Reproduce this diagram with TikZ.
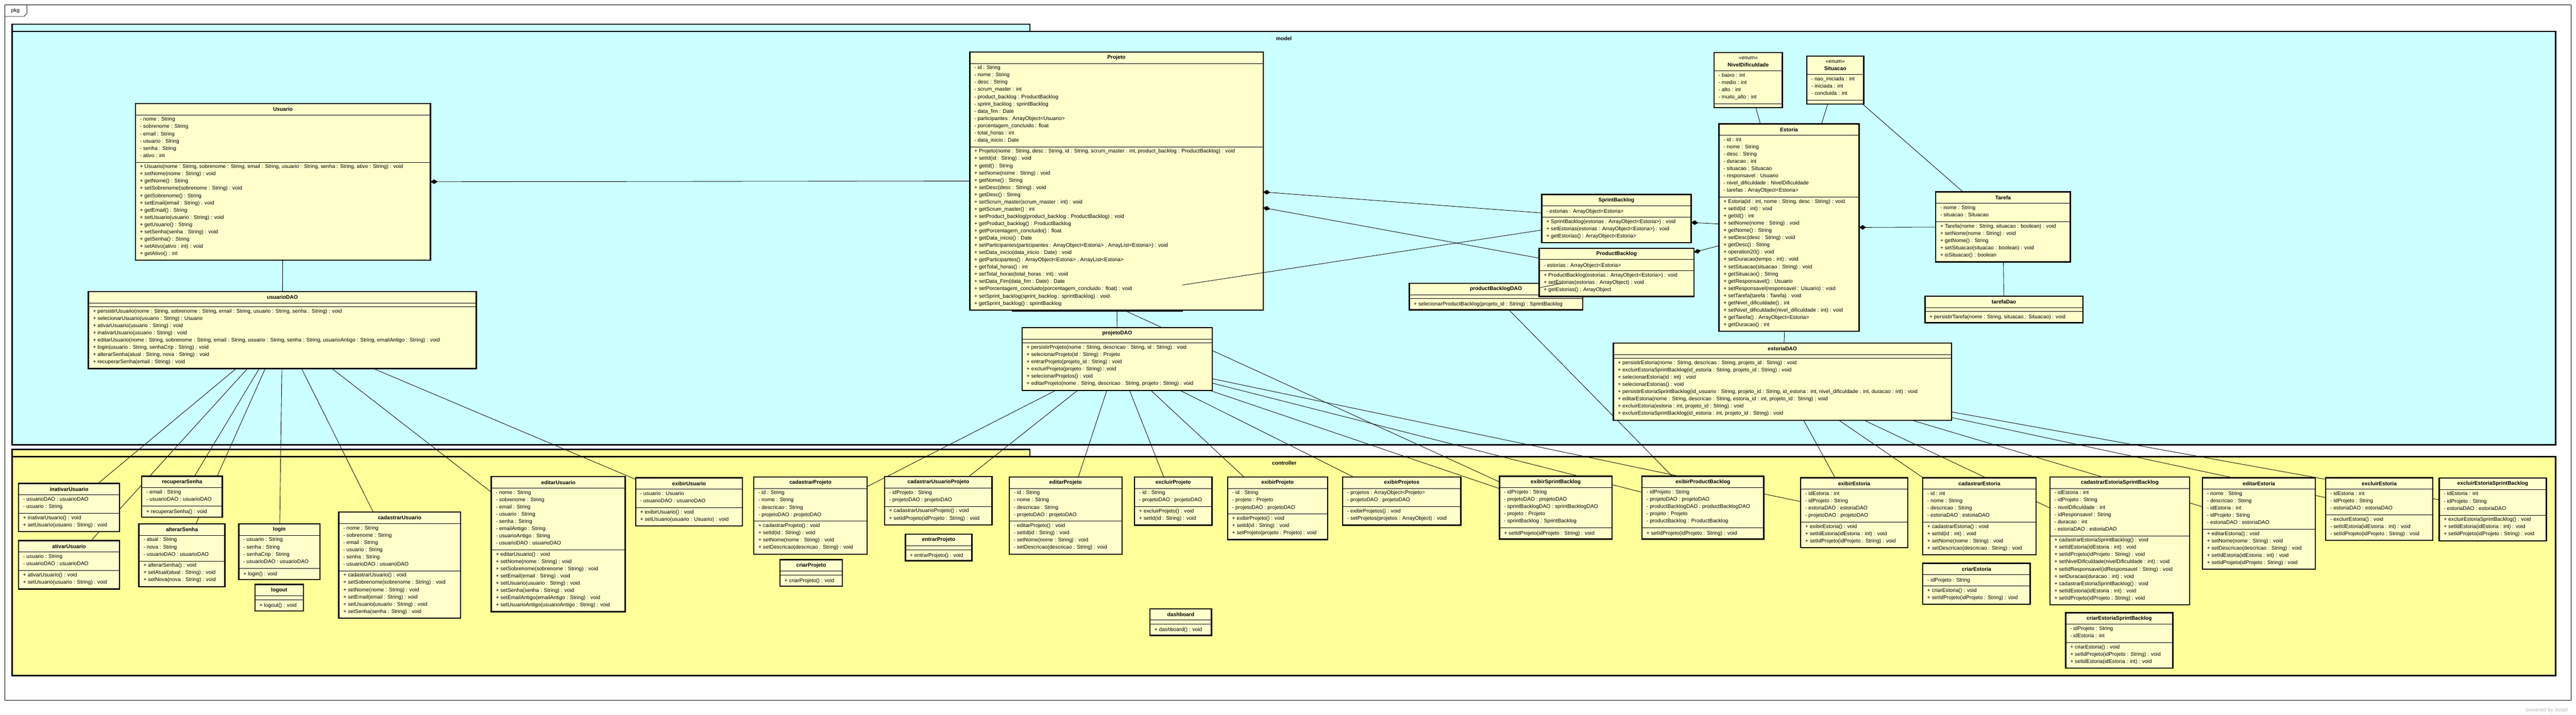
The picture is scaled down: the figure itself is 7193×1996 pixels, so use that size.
\documentclass[tikz,border=0pt]{standalone}
\usepackage{fontspec}
\setmainfont{Liberation Sans}
\usetikzlibrary{arrows.meta}
\definecolor{modelbg}{RGB}{204,255,255}
\definecolor{ctrlbg}{RGB}{255,255,153}
\definecolor{classbg}{RGB}{255,255,204}
\pgfdeclarelayer{pkg}
\pgfdeclarelayer{lines}
\pgfsetlayers{pkg,lines,main}
\newcommand{\umlfont}{\fontsize{4.2}{5.75}\selectfont}
\def\titleh{32}
% #1 name, #2 x, #3 y, #4 width, #5 attributes, #6 operations, #7 title, #8 attribute lines, #9 operation lines
\newcommand{\umlclass}[9]{%
	\pgfmathsetmacro{\ya}{#3+\titleh}%
	\pgfmathsetmacro{\yb}{\ya+#5*20.2+11}%
	\pgfmathsetmacro{\yc}{\yb+#6*20.2+11}%
	\pgfmathsetmacro{\bw}{#4*0.01}%
	\pgfmathsetmacro{\bh}{(\yc-#3)*0.01}%
	\node[classbox, minimum width=\bw cm, minimum height=\bh cm] (#1) at (#2,#3) {};
	\draw[sepline] (#2,\ya) -- ++(#4,0) (#2,\yb) -- ++(#4,0);
	\node[classtitle] at (#2+#4/2,#3+\titleh/2) {#7};
	\node[classtext] at (#2+12,\ya+5.5) {#8};
	\node[classtext] at (#2+12,\yb+5.5) {#9};
}
\begin{document}
\begin{tikzpicture}[
	x=0.01cm, y=-0.01cm,
	classbox/.style={draw, line width=1pt, fill=classbg, anchor=north west, inner sep=0pt, outer sep=0pt},
	sepline/.style={line width=0.4pt},
	classtitle/.style={font=\umlfont\bfseries, align=center, inner sep=0pt},
	classtext/.style={font=\umlfont, align=left, anchor=north west, inner sep=0pt,
		execute at begin node=\strut, execute at end node=\strut},
	assoc/.style={line width=0.35pt},
	comp/.style={line width=0.35pt, {Diamond[length=5.7pt,width=3.6pt]}-},
	pkgframe/.style={draw, line width=1pt}
	]
	\useasboundingbox (0,0) rectangle (7193,1996);
	% packages
	\begin{pgfonlayer}{pkg}
		\fill[white] (0,0) rectangle (7193,1996);
		\draw[line width=0.35pt] (14,13) rectangle (7179,1956);
		\draw[line width=0.35pt] (14,46) -- (67,46) -- (75,38) -- (75,13);
		\node[font=\umlfont] (pkglabel) at (43,30) {pkg};
		\draw[pkgframe, fill=modelbg] (34,68) rectangle (2876,88);
		\draw[pkgframe, fill=modelbg] (34,88) rectangle (7136,1242);
		\node[font=\umlfont\bfseries] (modellabel) at (3585,107) {model};
		\draw[pkgframe, fill=ctrlbg] (34,1255) rectangle (2876,1275);
		\draw[pkgframe, fill=ctrlbg] (34,1275) rectangle (7136,1887);
		\node[font=\umlfont\bfseries] (ctrllabel) at (3586,1293) {controller};
		\node[font=\umlfont, text=gray!55, anchor=east] (astah) at (7184,1984) {powered by Astah};
	\end{pgfonlayer}
	% model
	\umlclass{usuario}{378}{289}{824}{6}{13}{Usuario}
	{- nome : String\\- sobrenome : String\\- email : String\\- usuario : String\\- senha : String\\- ativo : int}
	{+ Usuario(nome : String, sobrenome : String, email : String, usuario : String, senha : String, ativo : String) : void\\
		+ setNome(nome : String) : void\\+ getNome() : String\\+ setSobrenome(sobrenome : String) : void\\
		+ getSobrenome() : String\\+ setEmail(email : String) : void\\+ getEmail() : String\\
		+ setUsuario(usuario : String) : void\\+ getUsuario() : String\\+ setSenha(senha : String) : void\\
		+ getSenha() : String\\+ setAtivo(ativo : int) : void\\+ getAtivo() : int}
	\umlclass{usuariodao}{247}{814}{1083}{0}{8}{usuarioDAO}{}
	{+ persistirUsuario(nome : String, sobrenome : String, email : String, usuario : String, senha : String) : void\\
		+ selecionarUsuario(usuario : String) : Usuario\\+ ativarUsuario(usuario : String) : void\\
		+ inativarUsuario(usuario : String) : void\\
		+ editarUsuario(nome : String, sobrenome : String, email : String, usuario : String, senha : String, usuarioAntigo : String, emailAntigo : String) : void\\
		+ login(usuario : String, senhaCrip : String) : void\\+ alterarSenha(atual : String, nova : String) : void\\
		+ recuperarSenha(email : String) : void}
	\umlclass{sprintbacklogdao}{2827}{795}{474}{0}{1}{}{}{}
	\umlclass{projeto}{2708}{145}{819}{11}{22}{Projeto}
	{- id : String\\- nome : String\\- desc : String\\- scrum\_master : int\\- product\_backlog : ProductBacklog\\
		- sprint\_backlog : sprintBacklog\\- data\_fim : Date\\- participantes : ArrayObject<Usuario>\\
		- porcentagem\_concluido : float\\- total\_horas : int\\- data\_inicio : Date}
	{+ Projeto(nome : String, desc : String, id : String, scrum\_master : int, product\_backlog : ProductBacklog) : void\\
		+ setId(id : String) : void\\+ getId() : String\\+ setNome(nome : String) : void\\+ getNome() : String\\
		+ setDesc(desc : String) : void\\+ getDesc() : String\\+ setScrum\_master(scrum\_master : int) : void\\
		+ getScrum\_master() : int\\+ setProduct\_backlog(product\_backlog : ProductBacklog) : void\\
		+ getProduct\_backlog() : ProductBacklog\\+ getPorcentagem\_concluido() : float\\+ getData\_inicio() : Date\\
		+ setParticipantes(participantes : ArrayObject<Estoria> , ArrayList<Estoria>) : void\\
		+ setData\_inicio(data\_inicio : Date) : void\\+ getParticipantes() : ArrayObject<Estoria> , ArrayList<Estoria>\\
		+ getTotal\_horas() : int\\+ setTotal\_horas(total\_horas : int) : void\\+ setData\_Fim(data\_fim : Date) : Date\\
		+ setPorcentagem\_concluido(porcentagem\_concluido : float) : void\\
		+ setSprint\_backlog(sprint\_backlog : sprintBacklog) : void\\+ getSprint\_backlog() : sprintBacklog}
	\umlclass{projetodao}{2854}{915}{531}{0}{6}{projetoDAO}{}
	{+ persistirProjeto(nome : String, descricao : String, id : String) : void\\
		+ selecionarProjeto(id : String) : Projeto\\+ entrarProjeto(projeto\_id : String) : void\\
		+ excluirProjeto(projeto : String) : void\\+ selecionarProjetos() : void\\
		+ editarProjeto(nome : String, descricao : String, projeto : String) : void}
	\umlclass{sprintbacklog}{4305}{543}{417}{1}{3}{SprintBacklog}
	{- estorias : ArrayObject<Estoria>}
	{+ SprintBacklog(estorias : ArrayObject<Estoria>) : void\\+ setEstorias(estorias : ArrayObject<Estoria>) : void\\
		+ getEstorias() : ArrayObject<Estoria>}
	\umlclass{productbacklogdao}{3935}{791}{484}{0}{1}{productBacklogDAO}{}
	{+ selecionarProductBacklog(projeto\_id : String) : SprintBacklog}
	\umlclass{productbacklog}{4298}{693}{432}{1}{3}{ProductBacklog}
	{- estorias : ArrayObject<Estoria>}
	{+ ProductBacklog(estorias : ArrayObject<Estoria>) : void\\+ setEstorias(estorias : ArrayObject) : void\\
		+ getEstorias() : ArrayObject}
	\def\titleh{51}
	\umlclass{niveldificuldade}{4786}{147}{191}{4}{0}{{\mdseries\textless\textless enum\textgreater\textgreater}\\NivelDificuldade}
	{- baixo : int\\- medio : int\\- alto : int\\- muito\_alto : int}{}
	\umlclass{situacao}{5045}{157}{159}{3}{0}{{\mdseries\textless\textless enum\textgreater\textgreater}\\Situacao}
	{- nao\_iniciada : int\\- iniciada : int\\- concluida : int}{}
	\def\titleh{32}
	\umlclass{estoria}{4800}{346}{391}{8}{18}{Estoria}
	{- id : int\\- nome : String\\- desc : String\\- duracao : int\\- situacao : Situacao\\- responsavel : Usuario\\
		- nivel\_dificuldade : NivelDificuldade\\- tarefas : ArrayObject<Estoria>}
	{+ Estoria(id : int, nome : String, desc : String) : void\\+ setId(id : int) : void\\+ getId() : int\\
		+ setNome(nome : String) : void\\+ getNome() : String\\+ setDesc(desc : String) : void\\+ getDesc() : String\\
		+ operation20() : void\\+ setDuracao(tempo : int) : void\\+ setSituacao(situacao : String) : void\\
		+ getSituacao() : String\\+ getResponsavel() : Usuario\\+ setResponsavel(responsavel : Usuario) : void\\
		+ setTarefa(tarefa : Tarefa) : void\\+ getNivel\_dificuldade() : int\\
		+ setNivel\_dificuldade(nivel\_dificuldade : int) : void\\+ getTarefa() : ArrayObject<Estoria>\\+ getDuracao() : int}
	\umlclass{tarefa}{5405}{536}{376}{2}{5}{Tarefa}
	{- nome : String\\- situacao : Situacao}
	{+ Tarefa(nome : String, situacao : boolean) : void\\+ setNome(nome : String) : void\\+ getNome() : String\\
		+ setSituacao(situacao : boolean) : void\\+ isSituacao() : boolean}
	\umlclass{tarefadao}{5375}{827}{441}{0}{1}{tarefaDao}{}
	{+ persistirTarefa(nome : String, situacao : Situacao) : void}
	\umlclass{estoriadao}{4505}{958}{944}{0}{8}{estoriaDAO}{}
	{+ persistirEstoria(nome : String, descricao : String, projeto\_id : String) : void\\
		+ excluirEstoriaSprintBacklog(id\_estoria : String, projeto\_id : String) : void\\
		+ selecionarEstoria(id : int) : void\\+ selecionarEstorias() : void\\
		+ persistirEstoriaSprintBacklog(id\_usuario : String, projeto\_id : String, id\_estoria : int, nivel\_dificuldade : int, duracao : int) : void\\
		+ editarEstoria(nome : String, descricao : String, estoria\_id : int, projeto\_id : String) : void\\
		+ excluirEstoria(estoria : int, projeto\_id : String) : void\\
		+ excluirEstoriaSprintBacklog(id\_estoria : int, projeto\_id : String) : void}
	% controller
	\umlclass{inativarusuario}{52}{1350}{282}{2}{2}{inativarUsuario}
	{- usuarioDAO : usuarioDAO\\- usuario : String}
	{+ inativarUsuario() : void\\+ setUsuario(usuario : String) : void}
	\umlclass{ativarusuario}{52}{1510}{282}{2}{2}{ativarUsuario}
	{- usuario : String\\- usuarioDAO : usuarioDAO}
	{+ ativarUsuario() : void\\+ setUsuario(usuario : String) : void}
	\umlclass{recuperarsenha}{396}{1330}{225}{2}{1}{recuperarSenha}
	{- email : String\\- usuarioDAO : usuarioDAO}
	{+ recuperarSenha() : void}
	\umlclass{alterarsenha}{388}{1463}{240}{3}{3}{alterarSenha}
	{- atual : String\\- nova : String\\- usuarioDAO : usuarioDAO}
	{+ alterarSenha() : void\\+ setAtual(atual : String) : void\\+ setNova(nova : String) : void}
	\umlclass{login}{667}{1463}{226}{4}{1}{login}
	{- usuario : String\\- senha : String\\- senhaCrip : String\\- usuarioDAO : usuarioDAO}
	{+ login() : void}
	\umlclass{logout}{712}{1632}{135}{0}{1}{logout}{}{+ logout() : void}
	\umlclass{cadastrarusuario}{946}{1430}{340}{6}{6}{cadastrarUsuario}
	{- nome : String\\- sobrenome : String\\- email : String\\- usuario : String\\- senha : String\\- usuarioDAO : usuarioDAO}
	{+ cadastrarUsuario() : void\\+ setSobrenome(sobrenome : String) : void\\+ setNome(nome : String) : void\\
		+ setEmail(email : String) : void\\+ setUsuario(usuario : String) : void\\+ setSenha(senha : String) : void}
	\umlclass{editarusuario}{1372}{1331}{374}{8}{8}{editarUsuario}
	{- nome : String\\- sobrenome : String\\- email : String\\- usuario : String\\- senha : String\\
		- emailAntigo : String\\- usuarioAntigo : String\\- usuarioDAO : usuarioDAO}
	{+ editarUsuario() : void\\+ setNome(nome : String) : void\\+ setSobrenome(sobrenome : String) : void\\
		+ setEmail(email : String) : void\\+ setUsuario(usuario : String) : void\\+ setSenha(senha : String) : void\\
		+ setEmailAntigo(emailAntigo : String) : void\\+ setUsuarioAntigo(usuarioAntigo : String) : void}
	\umlclass{exibirusuario}{1775}{1334}{298}{2}{2}{exibirUsuario}
	{- usuario : Usuario\\- usuarioDAO : usuarioDAO}
	{+ exibirUsuario() : void\\+ setUsuario(usuario : Usuario) : void}
	\umlclass{cadastrarprojeto}{2105}{1332}{316}{4}{4}{cadastrarProjeto}
	{- id : String\\- nome : String\\- descricao : String\\- projetoDAO : projetoDAO}
	{+ cadastrarProjeto() : void\\+ setId(id : String) : void\\+ setNome(nome : String) : void\\
		+ setDescricao(descricao : String) : void}
	\umlclass{criarprojeto}{2178}{1563}{174}{0}{1}{criarProjeto}{}{+ criarProjeto() : void}
	\umlclass{cadastrarusuarioprojeto}{2470}{1331}{300}{2}{2}{cadastrarUsuarioProjeto}
	{- idProjeto : String\\- projetoDAO : projetoDAO}
	{+ cadastrarUsuarioProjeto() : void\\+ setIdProjeto(idProjeto : String) : void}
	\umlclass{entrarprojeto}{2528}{1492}{186}{0}{1}{entrarProjeto}{}{+ entrarProjeto() : void}
	\umlclass{editarprojeto}{2818}{1332}{315}{4}{4}{editarProjeto}
	{- id : String\\- nome : String\\- descricao : String\\- projetoDAO : projetoDAO}
	{- editarProjeto() : void\\- setId(id : String) : void\\- setNome(nome : String) : void\\
		- setDescricao(descricao : String) : void}
	\umlclass{excluirprojeto}{3168}{1332}{216}{2}{2}{excluirProjeto}
	{- id : String\\- projetoDAO : projetoDAO}
	{+ excluirProjeto() : void\\+ setId(id : String) : void}
	\umlclass{exibirprojeto}{3428}{1332}{279}{3}{3}{exibirProjeto}
	{- id : String\\- projeto : Projeto\\- projetoDAO : projetoDAO}
	{+ exibirProjeto() : void\\+ setId(id : String) : void\\+ setProjeto(projeto : Projeto) : void}
	\umlclass{dashboard}{3211}{1700}{172}{0}{1}{dashboard}{}{+ dashboard() : void}
	\umlclass{exibirprojetos}{3749}{1332}{330}{2}{2}{exibirProjetos}
	{- projetos : ArrayObject<Projeto>\\- projetoDAO : projetoDAO}
	{- exibirProjetos() : void\\- setProjetos(projetos : ArrayObject) : void}
	\umlclass{exibirsprintbacklog}{4187}{1330}{314}{5}{1}{exibirSprintBacklog}
	{- idProjeto : String\\- projetoDAO : projetoDAO\\- sprintBacklogDAO : sprintBacklogDAO\\- projeto : Projeto\\
		- sprintBacklog : SprintBacklog}
	{+ setIdProjeto(idProjeto : String) : void}
	\umlclass{exibirproductbacklog}{4585}{1330}{340}{5}{1}{exibirProductBacklog}
	{- idProjeto : String\\- projetoDAO : projetoDAO\\- productBacklogDAO : productBacklogDAO\\- projeto : Projeto\\
		- productBacklog : ProductBacklog}
	{+ setIdProjeto(idProjeto : String) : void}
	\umlclass{exibirestoria}{5028}{1334}{299}{4}{3}{exibirEstoria}
	{- idEstoria : int\\- idProjeto : String\\- estoriaDAO : estoriaDAO\\- projetoDAO : projetoDAO}
	{+ exibirEstoria() : void\\+ setIdEstoria(idEstoria : int) : void\\+ setIdProjeto(idProjeto : String) : void}
	\umlclass{cadastrarestoria}{5369}{1334}{316}{4}{4}{cadastrarEstoria}
	{- id : int\\- nome : String\\- descricao : String\\- estoriaDAO : estoriaDAO}
	{+ cadastrarEstoria() : void\\+ setId(id : int) : void\\+ setNome(nome : String) : void\\
		+ setDescricao(descricao : String) : void}
	\umlclass{criarestoria}{5369}{1573}{300}{1}{2}{criarEstoria}
	{- idProjeto : String}
	{+ criarEstoria() : void\\+ setIdProjeto(idProjeto : String) : void}
	\umlclass{cadastrarestoriasprintbacklog}{5724}{1332}{390}{6}{9}{cadastrarEstoriaSprintBacklog}
	{- idEstoria : int\\- idProjeto : String\\- nivelDificuldade : int\\- idResponsavel : String\\- duracao : int\\
		- estoriaDAO : estoriaDAO}
	{+ cadastrarEstoriaSprintBacklog() : void\\+ setIdEstoria(idEstoria : int) : void\\
		+ setIdProjeto(idProjeto : String) : void\\+ setNivelDificuldade(nivelDificuldade : int) : void\\
		+ setIdResponsavel(idResponsavel : String) : void\\+ setDuracao(duracao : int) : void\\
		+ cadastrarEstoriaSprintBacklog() : void\\+ setIdEstoria(idEstoria : int) : void\\
		+ setIdProjeto(idProjeto : String) : void}
	\umlclass{criarestoriasprintbacklog}{5768}{1711}{299}{2}{3}{criarEstoriaSprintBacklog}
	{- idProjeto : String\\- idEstoria : int}
	{+ criarEstoria() : void\\+ setIdProjeto(idProjeto : String) : void\\+ setIdEstoria(idEstoria : int) : void}
	\umlclass{editarestoria}{6150}{1334}{315}{5}{5}{editarEstoria}
	{- nome : String\\- descricao : String\\- idEstoria : int\\- idProjeto : String\\- estoriaDAO : estoriaDAO}
	{+ editarEstoria() : void\\+ setNome(nome : String) : void\\+ setDescricao(descricao : String) : void\\
		+ setIdEstoria(idEstoria : int) : void\\+ setIdProjeto(idProjeto : String) : void}
	\umlclass{excluirestoria}{6494}{1334}{299}{3}{3}{excluirEstoria}
	{- idEstoria : int\\- idProjeto : String\\- estoriaDAO : estoriaDAO}
	{- excluirEstoria() : void\\- setIdEstoria(idEstoria : int) : void\\- setIdProjeto(idProjeto : String) : void}
	\umlclass{excluirestoriasprintbacklog}{6811}{1335}{299}{3}{3}{excluirEstoriaSprintBacklog}
	{- idEstoria : int\\- idProjeto : String\\- estoriaDAO : estoriaDAO}
	{+ excluirEstoriaSprintBacklog() : void\\+ setIdEstoria(idEstoria : int) : void\\
		+ setIdProjeto(idProjeto : String) : void}
	% connectors behind the classes
	\begin{pgfonlayer}{lines}
		\draw[assoc] (usuario) -- (usuariodao);
		\foreach \c in {inativarusuario,ativarusuario,recuperarsenha,alterarsenha,login,cadastrarusuario,editarusuario,exibirusuario}
			\draw[assoc] (usuariodao) -- (\c);
		\draw[assoc] (projeto) -- (projetodao);
		\foreach \c in {cadastrarprojeto,cadastrarusuarioprojeto,editarprojeto,excluirprojeto,exibirprojeto,exibirprojetos,exibirsprintbacklog,exibirproductbacklog,exibirestoria}
			\draw[assoc] (projetodao) -- (\c);
		\draw[assoc] (sprintbacklogdao) -- (exibirsprintbacklog);
		\draw[assoc] (productbacklogdao) -- (exibirproductbacklog);
		\draw[assoc] (estoria) -- (estoriadao);
		\foreach \c in {exibirestoria,cadastrarestoria,cadastrarestoriasprintbacklog,editarestoria,excluirestoria,excluirestoriasprintbacklog}
			\draw[assoc] (estoriadao) -- (\c);
		\draw[assoc] (tarefa) -- (tarefadao);
		\draw[assoc] (niveldificuldade) -- (estoria);
		\draw[assoc] (situacao) -- (estoria);
		\draw[assoc] (situacao) -- (tarefa);
		\draw[comp] (usuario) -- (projeto);
		\draw[comp] (projeto) -- (sprintbacklog);
		\draw[comp] (projeto) -- (productbacklog);
		\draw[comp] (sprintbacklog) -- (estoria);
		\draw[comp] (productbacklog) -- (estoria);
		\draw[comp] (estoria) -- (tarefa);
	\end{pgfonlayer}
	% these two lie over the classes
	\draw[assoc] (sprintbacklog) -- (sprintbacklogdao);
	\draw[assoc] (productbacklog) -- (productbacklogdao);
\end{tikzpicture}
\end{document}
